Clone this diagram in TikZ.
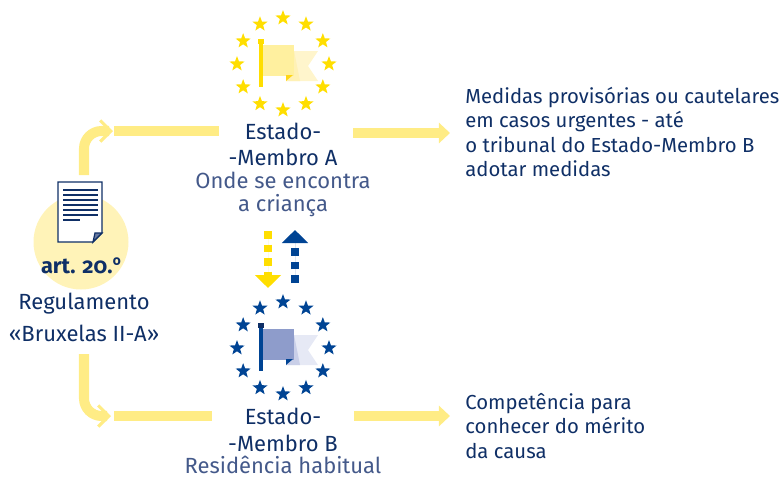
\documentclass[tikz,border=0pt]{standalone}
\usepackage{fontspec}
\setmainfont[Numbers=OldStyle]{Fira Sans}
\newfontfamily\ordfont{Open Sans}
\usepackage{xcolor}
\definecolor{softyellow}{HTML}{FFEC85}
\definecolor{paleyellow}{HTML}{FFF3B8}
\definecolor{euyellow}{HTML}{FFDE00}
\definecolor{foldyellow}{HTML}{FFD617}
\definecolor{eublue}{HTML}{004494}
\definecolor{navy}{HTML}{0F2F66}
\definecolor{slate}{HTML}{44598A}
\usetikzlibrary{arrows.meta}
\usetikzlibrary{shapes.geometric}
\tikzset{
 softline/.style={draw=softyellow,line width=5.7pt},
 softbend/.style={softline,rounded corners=10pt,-{Straight Barb[length=6pt,width=12pt,line width=1.8pt]}},
 softarrow/.style={softline,-{Triangle[length=6.3pt,width=11.4pt]}},
 dashline/.style={line width=4pt,dash pattern=on 4.5pt off 3.2pt,-{Triangle[length=7.4pt,width=14.5pt]}},
 eustar/.style={star,star points=5,star point ratio=2.4,minimum size=9pt,inner sep=0pt},
 title/.style={text=navy,font=\fontsize{12.5}{14}\selectfont,inner sep=0pt},
 note/.style={text=navy,font=\fontsize{11.55}{13.8}\selectfont,inner sep=0pt,align=left,anchor=west},
 subtitle/.style={text=slate,font=\fontsize{12.5}{13}\selectfont,inner sep=0pt,align=center},
}
\begin{document}
\begin{tikzpicture}[x=0.02cm,y=-0.02cm]
        \useasboundingbox (0, 0) rectangle (781, 477);
        % flags and stars
        \foreach \cy/\starcol/\capcol/\sqcol/\tailcol/\midcol/\foldcol/\id in {64/euyellow/euyellow/FFF09F/FFF5CC/FFF1B5/foldyellow/A, 348/eublue/navy/8E9CCB/E6E9F5/C9CFE8/eublue/B} {
            \definecolor{sqc}{HTML}{\sqcol}
            \definecolor{tailc}{HTML}{\tailcol}
            \definecolor{midc}{HTML}{\midcol}
            \begin{scope}[shift={(283, \cy)}]
                \foreach \a in {0, 30, ..., 330} {
                    \node[eustar, fill=\starcol] (star\id\a) at (\a:46) {};
                }
                \fill[tailc] (11, -13) -- (35, -13) -- (25, 2) -- (35, 17) -- (3, 17) -- cycle;
                \fill[midc] (11, -13) -- (17, 17) -- (3, 17) -- cycle;
                \fill[sqc] (-21, -19) rectangle (11, 12);
                \fill[\foldcol] (3, 11) -- (10, 11) -- (3, 17) -- cycle;
                \fill[\starcol] (-24, -24) rectangle (-20, 23);
                \fill[\capcol] (-25, -25) rectangle (-19, -20);
            \end{scope}
        }

        % regulation
        \fill[paleyellow] (81, 242) circle (47.5);
        \draw[navy, line width=0.7pt, fill=white] (58, 182) -- (102, 182) -- (102, 233) -- (93, 242) -- (58, 242) -- cycle;
        \fill[slate!80] (102, 233) -- (93, 242) -- (95, 233) -- cycle;
        \draw[navy, line width=0.7pt] (102, 233) -- (93, 242) -- (95, 233) -- cycle;
        \foreach \y in {190, 195, 200, 205, 210, 215} {
            \draw[navy, line width=1.1pt] (63, \y) -- (98, \y);
        }
        \draw[navy, line width=1.1pt] (63, 220) -- (80, 220);

        \node[title, font=\fontsize{12.4}{14}\selectfont\bfseries] (art) at (81, 266) {art. 20.{\ordfont º}};
        \node[title] (reg) at (84, 304) {Regulamento};
        \node[title] (brux) at (84, 333) {«Bruxelas II-A»};

        % member states
        \node[title, minimum width=140*0.569pt] (estA) at (283, 131) {Estado-};
        \node[title] (memA) at (283, 157) {-Membro A};
        \node[subtitle] (subA) at (283, 194) {Onde se encontra\\a criança};
        \node[title, minimum width=141*0.569pt] (estB) at (283, 416) {Estado-};
        \node[title] (memB) at (283, 443) {-Membro B};
        \node[subtitle] (subB) at (283, 465) {Residência habitual};

        % notes
        \node[note] (noteA) at (465, 132) {Medidas provisórias ou cautelares\\em casos urgentes - até\\o tribunal do Estado-Membro B\\adotar medidas};
        \node[note] (noteB) at (465, 426) {Competência para\\conhecer do mérito\\da causa};

        % connectors
        \coordinate (upstart) at (84, 175);
        \coordinate (downstart) at (84, 354);
        \coordinate (tipA) at (113, 131);
        \coordinate (tipB) at (111, 416);
        \coordinate (tailA) at (114, 131);
        \coordinate (tailB) at (114, 416);
        \coordinate (goA) at (450, 133);
        \coordinate (goB) at (450, 416);
        \coordinate (ydash) at (268, 231);
        \coordinate (yend) at (268, 288);
        \coordinate (bdash) at (295, 283);
        \coordinate (bend) at (295, 230);

        \draw[softbend] (upstart) |- (tipA);
        \draw[softbend] (downstart) |- (tipB);
        \draw[softline, shorten >=-3.4pt] (tailA) -- (estA.west);
        \draw[softline] (tailB) -- (estB.west);
        \draw[softarrow] (estA.east) ++(0, 2) -- (goA);
        \draw[softarrow] (estB.east) -- (goB);
        \draw[dashline, draw=euyellow, fill=euyellow] (ydash) -- (yend);
        \draw[dashline, draw=eublue, fill=eublue] (bdash) -- (bend);
    \end{tikzpicture}
\end{document}
